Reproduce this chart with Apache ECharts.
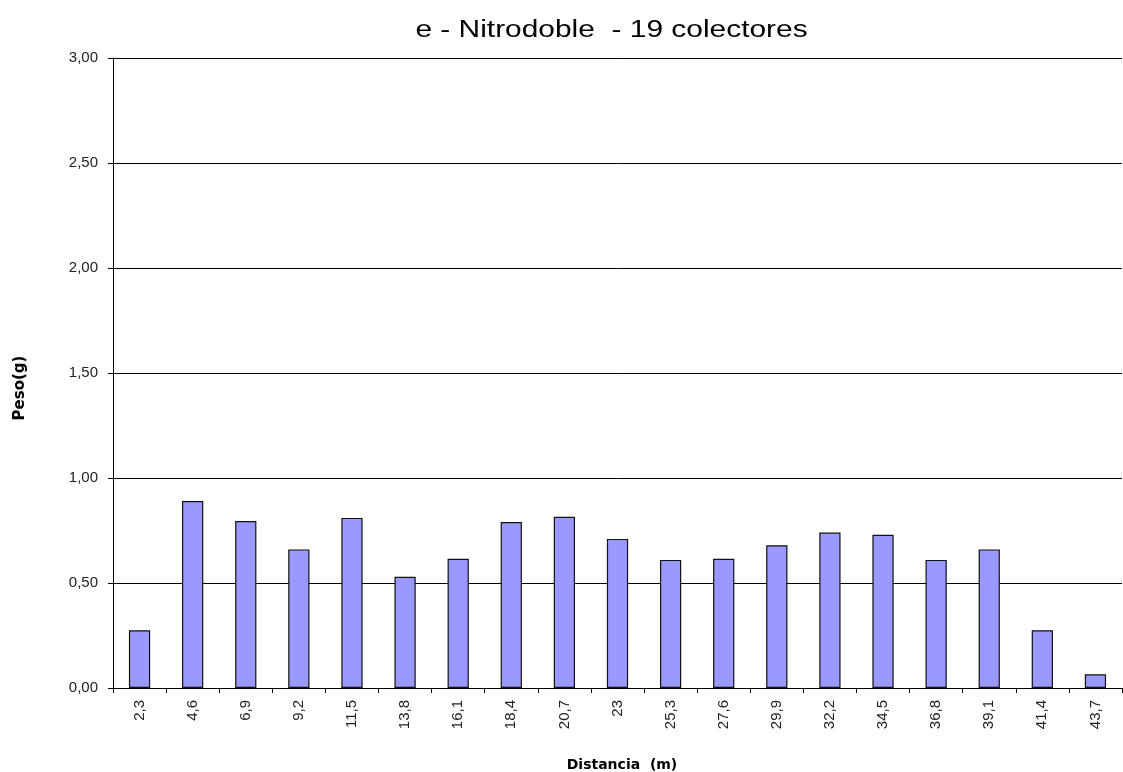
<!DOCTYPE html>
<html>
<head>
<meta charset="utf-8">
<script src="https://cdn.jsdelivr.net/npm/echarts@6/dist/echarts.min.js"></script>
<style>
  html, body { margin: 0; padding: 0; background: #fff; overflow: hidden; }
  #chart { width: 1123px; height: 772px; }
</style>
</head>
<body>
<div id="chart"></div>
<script>
// Distance of each collector along the line (m)
const distancias = ['2,3', '4,6', '6,9', '9,2', '11,5', '13,8', '16,1', '18,4', '20,7', '23',
                    '25,3', '27,6', '29,9', '32,2', '34,5', '36,8', '39,1', '41,4', '43,7'];
// Weight collected in each tray (g)
const pesos = [0.275, 0.89, 0.795, 0.66, 0.81, 0.53, 0.615, 0.79, 0.815, 0.71,
               0.61, 0.615, 0.68, 0.74, 0.73, 0.61, 0.66, 0.275, 0.065];
// Value axis range and step
const yMin = 0, yMax = 3, yStep = 0.5;

const chart = echarts.init(document.getElementById('chart'), null, { renderer: 'canvas', width: 1123, height: 772 });
const font = '"Liberation Sans", Arial, sans-serif';
const wideFont = '"DejaVu Sans", Verdana, sans-serif';

chart.setOption({
  animation: false,
  backgroundColor: '#ffffff',
  grid: { left: 113, top: 58, width: 1009, height: 630, containLabel: false, outerBoundsMode: 'none' },
  xAxis: {
    type: 'category',
    data: distancias,
    axisLine: { lineStyle: { color: '#000', width: 1 } },
    axisTick: { show: true, alignWithLabel: false, length: 5, lineStyle: { color: '#000' } },
    axisLabel: { rotate: 90, fontFamily: font, fontSize: 15, color: '#222', margin: 12, interval: 0 }
  },
  yAxis: {
    type: 'value',
    min: yMin,
    max: yMax,
    interval: yStep,
    axisLine: { show: true, lineStyle: { color: '#000', width: 1 } },
    axisTick: { show: true, length: 5, lineStyle: { color: '#000' } },
    axisLabel: {
      fontFamily: font, fontSize: 15, color: '#222', margin: 15,
      formatter: v => v.toFixed(2).replace('.', ',')
    },
    splitLine: { show: true, lineStyle: { color: '#000', width: 1 } }
  },
  graphic: [
    {
      // chart title, drawn slightly widened
      type: 'text',
      x: 611.5, y: 31,
      scaleX: 1.3,
      style: {
        text: 'e - Nitrodoble  - 19 colectores',
        font: '23px ' + font,
        fill: '#000',
        textAlign: 'center',
        textVerticalAlign: 'middle'
      }
    },
    {
      // value axis name
      type: 'text',
      x: 20.5, y: 388,
      rotation: Math.PI / 2,
      style: {
        text: 'Peso(g)',
        font: 'bold 15px ' + wideFont,
        fill: '#000',
        textAlign: 'center',
        textVerticalAlign: 'middle'
      }
    },
    {
      // category axis name
      type: 'text',
      x: 622, y: 765,
      style: {
        text: 'Distancia  (m)',
        font: 'bold 14px ' + wideFont,
        fill: '#000',
        textAlign: 'center',
        textVerticalAlign: 'middle'
      }
    }
  ],
  series: [{
    type: 'bar',
    data: pesos,
    barWidth: '40%',
    itemStyle: { color: '#9999ff', borderColor: '#111', borderWidth: 1.2 }
  }]
});
</script>
</body>
</html>
